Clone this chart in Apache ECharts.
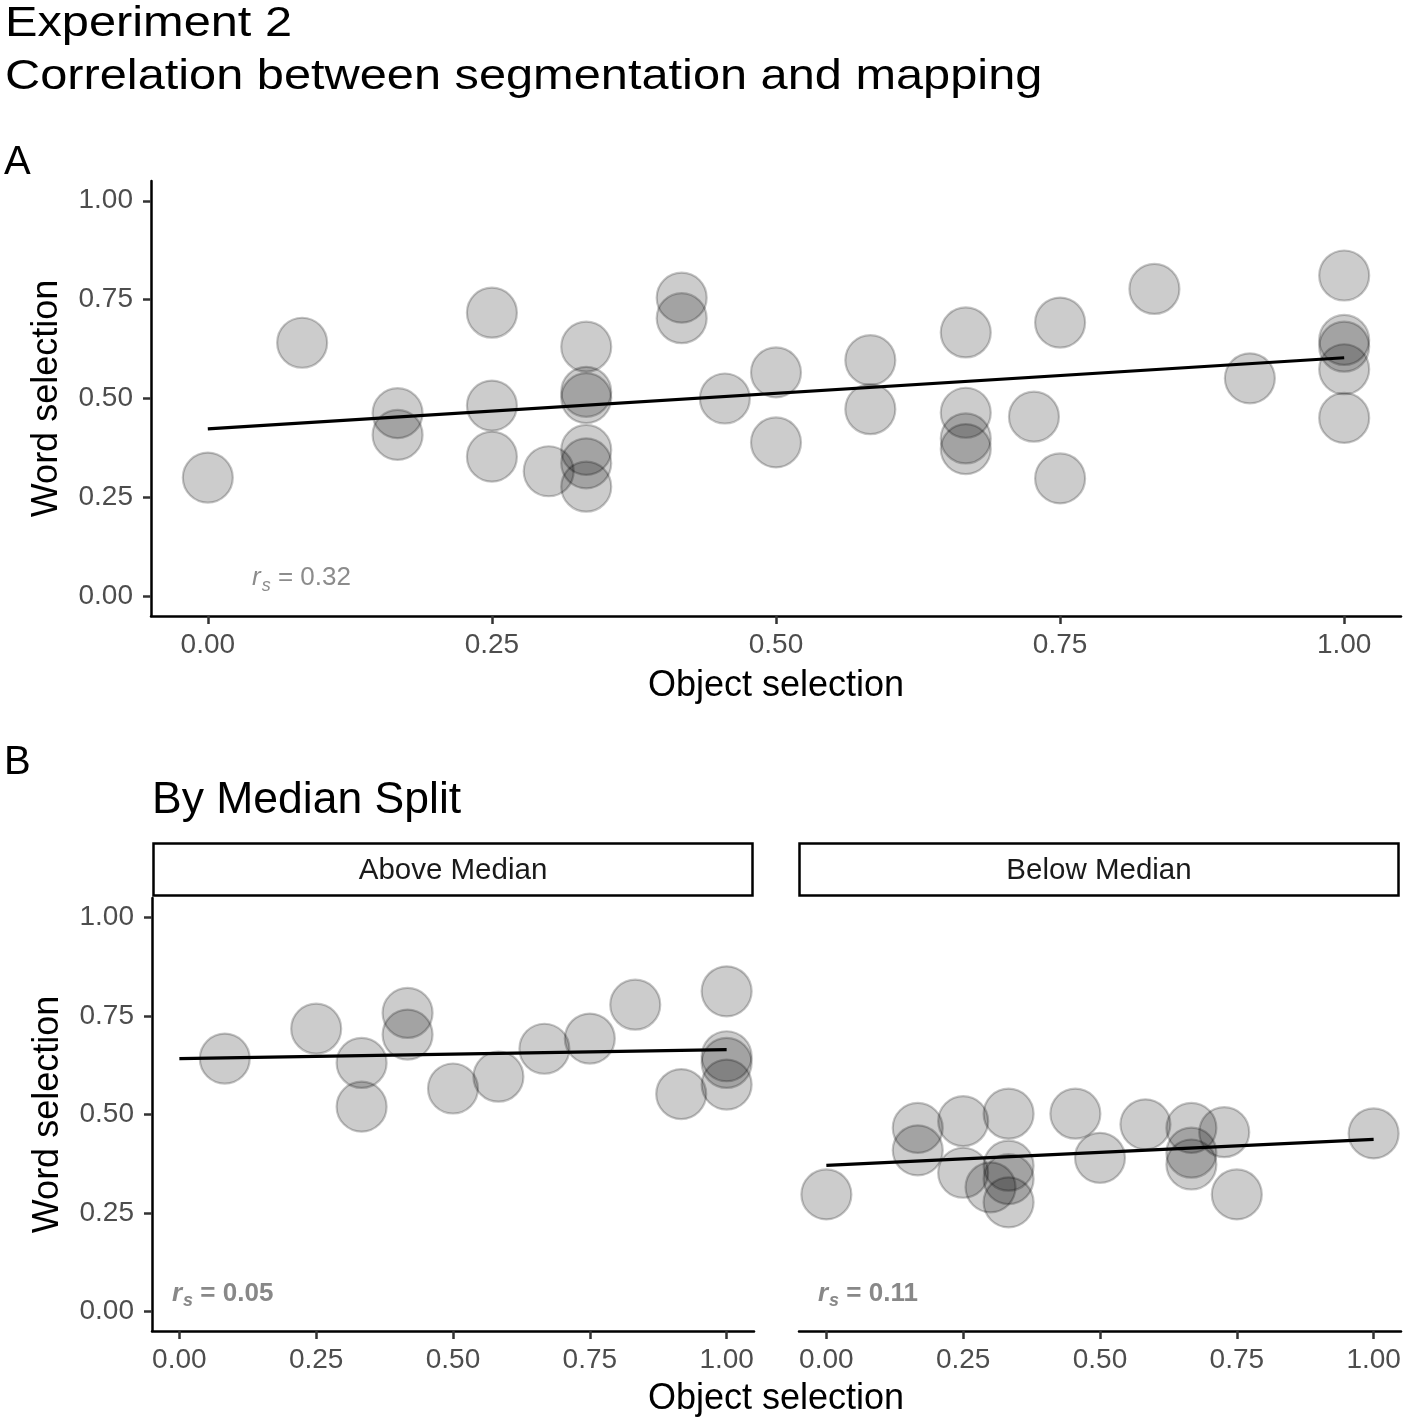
<!DOCTYPE html>
<html>
<head>
<meta charset="utf-8">
<script src="https://cdn.jsdelivr.net/npm/echarts@6/dist/echarts.min.js"></script>
<style>
html,body{margin:0;padding:0;background:#fff;}
#chart{width:1405px;height:1424px;}
</style>
</head>
<body>
<div id="chart"></div>
<script>
// ---- Data ----
const tickValues = [0, 0.25, 0.5, 0.75, 1];
const tickLabels = ['0.00', '0.25', '0.50', '0.75', '1.00'];

// Panel A: all participants [object selection, word selection]
const pointsA = [
  [0.000, 0.300], [0.083, 0.641], [0.167, 0.463], [0.167, 0.408],
  [0.250, 0.717], [0.250, 0.482], [0.250, 0.353], [0.300, 0.316],
  [0.333, 0.631], [0.333, 0.517], [0.333, 0.501], [0.333, 0.370],
  [0.333, 0.336], [0.333, 0.277], [0.417, 0.755], [0.417, 0.703],
  [0.455, 0.500], [0.500, 0.566], [0.500, 0.389], [0.583, 0.597],
  [0.583, 0.473], [0.667, 0.667], [0.667, 0.464], [0.667, 0.399],
  [0.667, 0.372], [0.727, 0.454], [0.750, 0.692], [0.750, 0.298],
  [0.833, 0.777], [0.917, 0.551], [1.000, 0.811], [1.000, 0.648],
  [1.000, 0.631], [1.000, 0.574], [1.000, 0.451]
];
const fitA = [[0, 0.423], [1, 0.603]];

// Panel B: Above Median
const pointsAbove = [
  [0.083, 0.642], [0.250, 0.718], [0.333, 0.631], [0.333, 0.520],
  [0.417, 0.758], [0.417, 0.703], [0.500, 0.566], [0.583, 0.596],
  [0.667, 0.667], [0.750, 0.693], [0.833, 0.779], [0.917, 0.552],
  [1.000, 0.813], [1.000, 0.648], [1.000, 0.631], [1.000, 0.576]
];
const fitAbove = [[0, 0.642], [1, 0.665]];

// Panel B: Below Median
const pointsBelow = [
  [0.000, 0.297], [0.167, 0.466], [0.167, 0.409], [0.250, 0.483],
  [0.250, 0.352], [0.300, 0.315], [0.333, 0.502], [0.333, 0.370],
  [0.333, 0.336], [0.333, 0.277], [0.455, 0.502], [0.500, 0.390],
  [0.583, 0.475], [0.667, 0.466], [0.667, 0.403], [0.667, 0.373],
  [0.727, 0.455], [0.750, 0.297], [1.000, 0.452]
];
const fitBelow = [[0, 0.371], [1, 0.437]];

const rsA = '0.32', rsAbove = '0.05', rsBelow = '0.11';
const stripLabels = ['Above Median', 'Below Median'];

// ---- Styling ----
const FONT = '"Liberation Sans", Arial, Helvetica, sans-serif';
const AXIS_MIN = -0.05, AXIS_MAX = 1.05;

function fmt(v) {
  const i = tickValues.indexOf(Math.round(v * 100) / 100);
  return i >= 0 ? tickLabels[i] : v.toFixed(2);
}
function xAxisCfg(gridIndex, showName) {
  return {
    type: 'value', gridIndex, min: AXIS_MIN, max: AXIS_MAX,
    splitLine: {show: false},
    axisLine: {show: true, onZero: false, lineStyle: {color: '#000', width: 2.5}},
    axisTick: {show: true, customValues: tickValues, length: 8, lineStyle: {color: '#333', width: 2.5}},
    axisLabel: {show: true, customValues: tickValues, margin: 15, formatter: fmt,
      color: '#4d4d4d', fontSize: 28, fontFamily: FONT},
    name: showName ? 'Object selection' : '', nameLocation: 'middle', nameGap: 52,
    nameTextStyle: {color: '#000', fontSize: 36, fontFamily: FONT}
  };
}
function yAxisCfg(gridIndex, showAxis) {
  return {
    type: 'value', gridIndex, min: AXIS_MIN, max: AXIS_MAX,
    splitLine: {show: false},
    axisLine: {show: showAxis, onZero: false, lineStyle: {color: '#000', width: 2.5}},
    axisTick: {show: showAxis, customValues: tickValues, length: 8, lineStyle: {color: '#333', width: 2.5}},
    axisLabel: {show: showAxis, customValues: tickValues, margin: 18, formatter: fmt,
      color: '#4d4d4d', fontSize: 28, fontFamily: FONT},
    name: showAxis ? 'Word selection' : '', nameLocation: 'middle', nameGap: 86,
    nameTextStyle: {color: '#000', fontSize: 36, fontFamily: FONT}
  };
}
function scatterSeries(data, idx) {
  return {
    type: 'scatter', xAxisIndex: idx, yAxisIndex: idx, data,
    symbol: 'circle', symbolSize: 50, silent: true,
    itemStyle: {color: 'rgba(0,0,0,0.25)', borderColor: 'rgba(0,0,0,0.28)', borderWidth: 2.2}
  };
}
function fitSeries(data, idx) {
  return {
    type: 'line', xAxisIndex: idx, yAxisIndex: idx, data,
    showSymbol: false, silent: true, z: 5,
    lineStyle: {color: '#000', width: 3.2}
  };
}
function rsText(x, y, val, bold, color) {
  const w = bold ? 'bold' : 'normal';
  return {
    type: 'text', x, y, z: 10,
    style: {
      text: '{r|r}{s|s}{n| = ' + val + '}',
      fill: color, textVerticalAlign: 'middle',
      rich: {
        r: {fontSize: 26, fontStyle: 'italic', fontFamily: FONT, fill: color, fontWeight: w},
        s: {fontSize: 18, fontStyle: 'italic', fontFamily: FONT, fill: color, padding: [15, 0, 0, 1], fontWeight: w},
        n: {fontSize: 26, fontFamily: FONT, fill: color, fontWeight: w}
      }
    }
  };
}
function plainText(x, y, text, size, opts) {
  return Object.assign({
    type: 'text', x, y, z: 10,
    style: Object.assign({text, fontSize: size, fontFamily: FONT, fill: '#000',
      textAlign: 'left', textVerticalAlign: 'middle'}, (opts && opts.style) || {})
  }, (opts && opts.el) || {});
}

const chart = echarts.init(document.getElementById('chart'), null, {renderer: 'canvas'});
const option = {
  backgroundColor: '#fff',
  animation: false,
  grid: [
    {left: 151, top: 181, width: 1250, height: 435, outerBoundsMode: 'none'},
    {left: 152, top: 898, width: 602, height: 433, outerBoundsMode: 'none'},
    {left: 799, top: 898, width: 602, height: 433, outerBoundsMode: 'none'}
  ],
  xAxis: [xAxisCfg(0, true), xAxisCfg(1, false), xAxisCfg(2, false)],
  yAxis: [yAxisCfg(0, true), yAxisCfg(1, true), yAxisCfg(2, false)],
  series: [
    scatterSeries(pointsA, 0), fitSeries(fitA, 0),
    scatterSeries(pointsAbove, 1), fitSeries(fitAbove, 1),
    scatterSeries(pointsBelow, 2), fitSeries(fitBelow, 2)
  ],
  graphic: [
    plainText(5, 24, 'Experiment 2', 42, {el: {scaleX: 1.16}}),
    plainText(5, 77, 'Correlation between segmentation and mapping', 42, {el: {scaleX: 1.16}}),
    plainText(4, 163, 'A', 40),
    plainText(4, 763, 'B', 40),
    plainText(152, 801, 'By Median Split', 44.5),
    {type: 'rect', shape: {x: 153.5, y: 843.5, width: 599, height: 52}, z: 10,
      style: {fill: '#fff', stroke: '#000', lineWidth: 2.5}},
    {type: 'rect', shape: {x: 799.5, y: 843.5, width: 599, height: 52}, z: 10,
      style: {fill: '#fff', stroke: '#000', lineWidth: 2.5}},
    plainText(453, 871, stripLabels[0], 29.5, {style: {textAlign: 'center', fill: '#1a1a1a'}}),
    plainText(1099, 871, stripLabels[1], 29.5, {style: {textAlign: 'center', fill: '#1a1a1a'}}),
    plainText(776, 1399, 'Object selection', 36, {style: {textAlign: 'center'}}),
    rsText(252, 578, rsA, false, '#8c8c8c'),
    rsText(172, 1294, rsAbove, true, '#888888'),
    rsText(818, 1294, rsBelow, true, '#888888')
  ]
};
chart.setOption(option);
</script>
</body>
</html>
